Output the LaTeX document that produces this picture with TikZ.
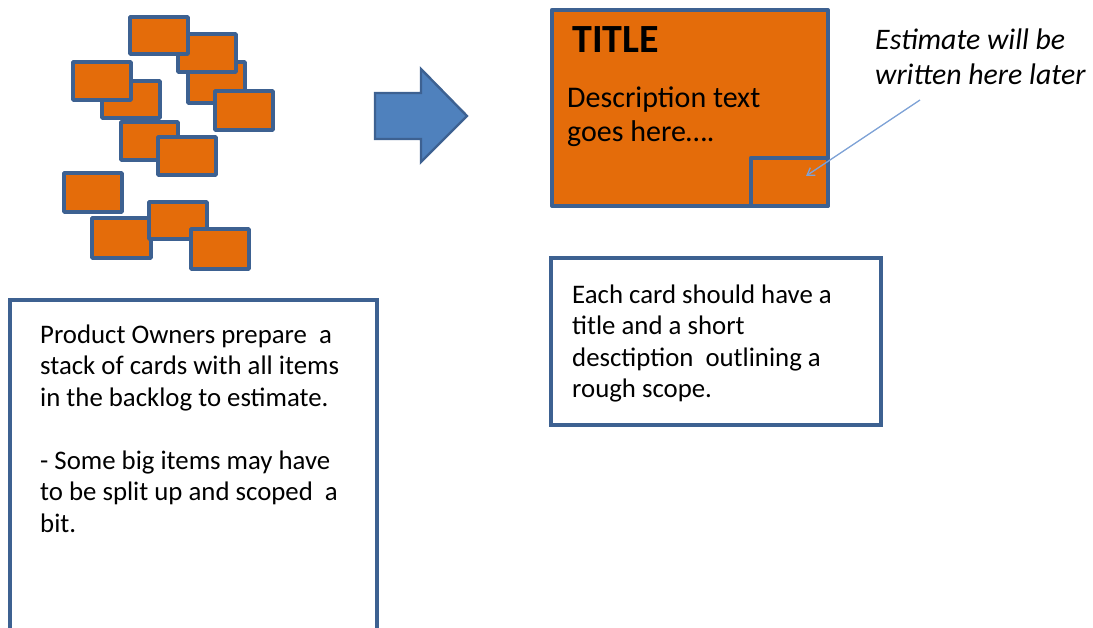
\documentclass[tikz,border=0pt]{standalone}
\usepackage{fontspec}
\setmainfont{Carlito}
\usetikzlibrary{arrows.meta}
\definecolor{cardorange}{HTML}{E46C0A}
\definecolor{edgeblue}{HTML}{3D6191}
\definecolor{arrowblue}{HTML}{4F81BD}
\definecolor{pointerblue}{HTML}{7EA2D6}
\tikzset{
  card/.style={draw=edgeblue, fill=cardorange, line width=3.6pt, line join=round},
  infobox/.style={draw=edgeblue, fill=white, line width=3.2pt},
  % multi-line texts are placed by the baseline of their last line
  bodytext/.style={anchor=base west, align=left, inner sep=0pt,
    font=\fontsize{26.8}{31.5}\selectfont},
}
\begin{document}
\begin{tikzpicture}[x=1pt, y=-1pt]
\useasboundingbox (0,0) rectangle (1093,628);

% scattered stack of cards, back to front
\draw[card] (188,62) rectangle (245,103);   % C
\draw[card] (215,91) rectangle (273,130);   % D
\draw[card] (178,34) rectangle (236,72);    % B
\draw[card] (130,17) rectangle (188,54);    % A
\draw[card] (102,81) rectangle (160,118);   % F
\draw[card] (73,62) rectangle (131,100);    % E
\draw[card] (121,122) rectangle (178,160);  % G
\draw[card] (158,137) rectangle (216,175);  % H
\draw[card] (64,173) rectangle (122,212);   % I
\draw[card] (92,218) rectangle (151,258);   % K
\draw[card] (149,202) rectangle (207,239);  % J
\draw[card] (191,229) rectangle (249,269);  % L

% block arrow
\draw[draw=edgeblue, fill=arrowblue, line width=2.4pt, line join=miter]
  (375,93) -- (421,93) -- (421,69) -- (467,116) -- (421,162) -- (421,139) -- (375,139) -- cycle;

% example card
\node[card, minimum width=276pt, minimum height=196pt, anchor=north west, inner sep=0pt] (bigcard) at (550,8) {};
\node[card, minimum width=77pt, minimum height=48pt, anchor=south east, inner sep=0pt] (estbox) at (bigcard.south east) {};
\node[anchor=base west, inner sep=0pt, font=\fontsize{40}{46}\selectfont\bfseries] (title) at (572,53) {TITLE};
\node[anchor=base west, align=left, inner sep=0pt, font=\fontsize{30}{34}\selectfont] (desc) at (567,142) {Description text\\goes here….};

% note about the estimate
\node[anchor=base west, align=left, inner sep=0pt, font=\fontsize{29.8}{35}\selectfont\itshape] (estnote) at (875,85) {Estimate will be\\written here later};
\coordinate (ptrstart) at (920,100);
\coordinate (ptrend) at (806,176);
\draw[pointerblue, line width=1.3pt, -{Straight Barb[length=7pt, width=9pt]}] (ptrstart) -- (ptrend);

% explanation boxes
\draw[infobox] (10,300) rectangle (377,660);
\node[bodytext] (lefttext) at (40,532) {Product Owners prepare\ \ a\\stack of cards with all items\\in the backlog to estimate.\\[31.5pt]- Some big items may have\\to be split up and scoped\ \ a\\bit.};

\draw[infobox] (551,258) rectangle (881,425);
\node[bodytext] (righttext) at (572,398) {Each card should have a\\title and a short\\desctiption\ \ outlining a\\rough scope.};
\end{tikzpicture}
\end{document}
